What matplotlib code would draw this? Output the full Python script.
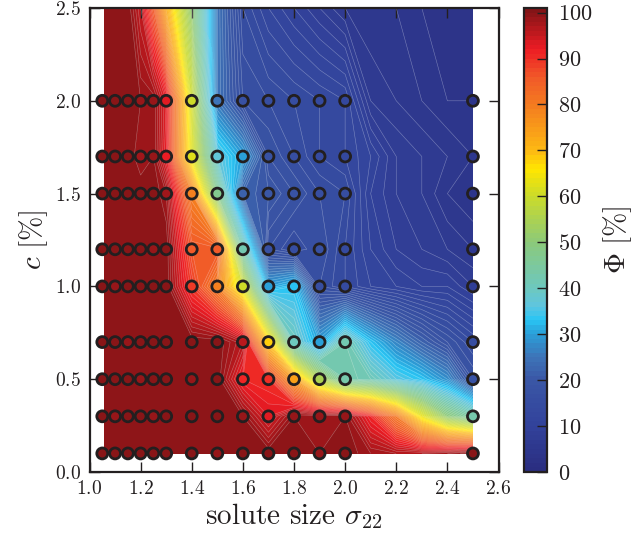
import numpy as np
import matplotlib
matplotlib.use("Agg")
import matplotlib.pyplot as plt
from matplotlib.colors import LinearSegmentedColormap

plt.rcParams['font.family'] = ['cmr10', 'DejaVu Serif']
plt.rcParams['mathtext.fontset'] = 'cm'
plt.rcParams['axes.formatter.use_mathtext'] = True

# grid used for the filled contours (extra columns at 2.1-2.4 have no markers)
grid_x = [1.06, 1.1, 1.15, 1.2, 1.25, 1.3, 1.4, 1.5, 1.6, 1.7, 1.8, 1.9, 2.0,
          2.1, 2.2, 2.3, 2.4, 2.5]
grid_y = [0.1, 0.3, 0.5, 0.7, 1.0, 1.2, 1.5, 1.7, 2.0, 2.5]
phi = [
    [100, 100, 100, 100, 100, 100, 100, 99, 100, 100, 100, 99, 100, 98, 97, 97, 98, 100],
    [100, 99, 100, 100, 99, 100, 100, 100, 99, 93, 99, 99, 99, 91, 80, 63, 50, 43],
    [100, 100, 100, 99, 100, 100, 99, 100, 91, 90, 74, 55, 43, 41, 36, 33, 28, 18],
    [100, 100, 99, 100, 100, 100, 100, 100, 96, 68, 40, 30, 42, 33, 27, 22, 18, 15],
    [100, 99, 100, 100, 100, 100, 89, 79, 60, 30, 33, 16, 14, 12, 11, 10, 10, 8],
    [100, 100, 100, 100, 99, 100, 86, 86, 42, 17, 15, 17, 14, 11, 9, 8, 7, 6],
    [100, 100, 100, 100, 100, 98, 79, 47, 22, 20, 18, 16, 15, 10, 8, 7, 5, 4],
    [100, 100, 100, 98, 99, 92, 62, 37, 30, 18, 16, 14, 13, 11, 8, 7, 6, 5],
    [100, 100, 100, 99, 99, 93, 60, 25, 17, 16, 15, 14, 13, 7, 6, 5, 4, 4],
    [100, 100, 100, 95, 85, 72, 50, 25, 15, 12, 10, 8, 6, 5, 5, 4, 3, 3],
]

# simulated state points (circles)
point_x = [1.05, 1.1, 1.15, 1.2, 1.25, 1.3, 1.4, 1.5, 1.6, 1.7, 1.8, 1.9, 2.0, 2.5]
point_y = [0.1, 0.3, 0.5, 0.7, 1.0, 1.2, 1.5, 1.7, 2.0]
point_cols = [0, 1, 2, 3, 4, 5, 6, 7, 8, 9, 10, 11, 12, 17]

cmap_pos = [0, 10, 20, 25, 30, 33, 36, 40, 50, 60, 66, 70, 80, 86, 92, 101]
cmap_colors = ['#2a2d80', '#32429b', '#3a57a6', '#3d74b8', '#2a9fd8', '#29c5f4',
               '#5ec5e0', '#6dc8bf', '#8cc97a', '#cbdb2a', '#ffe600', '#fdb913',
               '#f47b20', '#f15a29', '#ed1c24', '#7f1416']
cbar_ticks = [0, 10, 20, 30, 40, 50, 60, 70, 80, 90, 100]

cmap = LinearSegmentedColormap.from_list(
    'cmyk_jet', [(p / 101, c) for p, c in zip(cmap_pos, cmap_colors)], N=256)
levels = np.arange(0, 102, 1)
Z = np.array(phi, dtype=float)

fig = plt.figure(figsize=(6.39, 5.4), dpi=100)
ax = fig.add_axes([89.5/639, 1 - 472/540, 409/639, 464/540])
cax = fig.add_axes([524/639, 1 - 472/540, 23/639, 464/540])

cf = ax.contourf(grid_x, grid_y, Z, levels=levels, cmap=cmap, vmin=0, vmax=101)
ax.contour(grid_x, grid_y, Z, levels=levels, colors='white', linewidths=0.4, alpha=0.35)

px, py, pc = [], [], []
for j, y in enumerate(point_y):
    for x, col in zip(point_x, point_cols):
        px.append(x)
        py.append(y)
        pc.append(phi[j][col])
ax.scatter(px, py, c=pc, s=62, cmap=cmap, vmin=0, vmax=101,
           edgecolors='#231f20', linewidths=2.0, zorder=5)

ax.set_xlim(1.0, 2.6)
ax.set_ylim(0.0, 2.5)
ax.set_xticks(np.arange(1.0, 2.61, 0.2))
ax.set_yticks(np.arange(0.0, 2.51, 0.5))
ax.tick_params(direction='in', length=7, width=1.0, top=True, right=True,
               labelsize=14, color='#231f20', labelcolor='#231f20', pad=6)
for s in ax.spines.values():
    s.set_linewidth(1.6)
    s.set_color('#231f20')
ax.set_xlabel(r'solute size $\sigma_{22}$', fontsize=21, color='#231f20', labelpad=2)
ax.set_ylabel(r'$c\ [\%]$', fontsize=21, color='#231f20', labelpad=4)

cb = fig.colorbar(cf, cax=cax, ticks=cbar_ticks)
cb.ax.tick_params(direction='in', length=7, width=1.0, labelsize=16, color='#231f20',
                  labelcolor='#231f20', pad=8)
cb.outline.set_linewidth(1.6)
cb.outline.set_edgecolor('#231f20')
cb.set_label(r'$\Phi\ [\%]$', fontsize=21, color='#231f20', labelpad=6)

fig.savefig('out.png', dpi=100)
